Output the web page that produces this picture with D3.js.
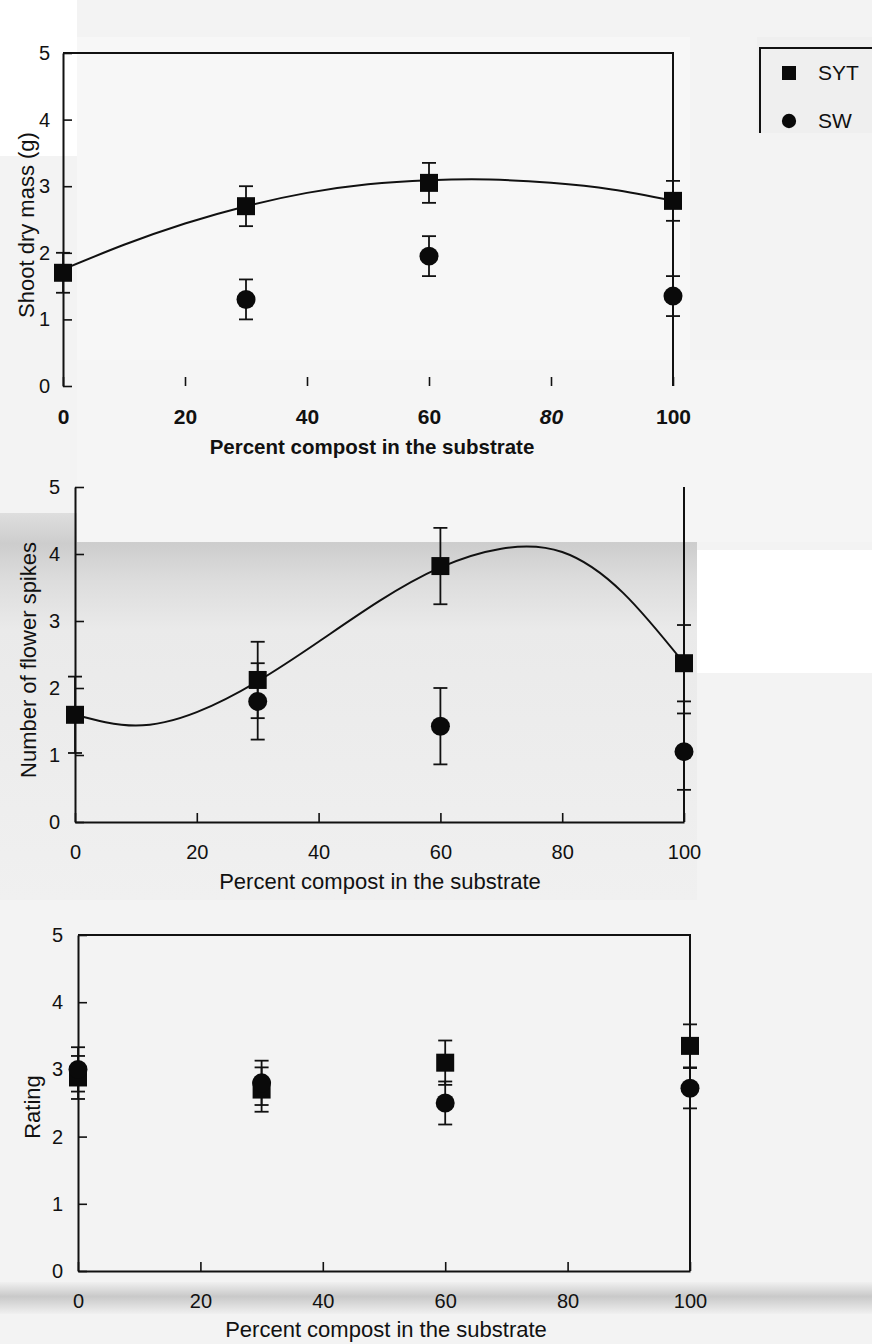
<!DOCTYPE html>
<html>
<head>
<meta charset="utf-8">
<script src="https://cdn.jsdelivr.net/npm/d3@7"></script>
<style>
  html, body { margin: 0; padding: 0; background: #f3f3f3; }
  svg { display: block; }
  text { font-family: 'Liberation Sans', Arial, sans-serif; fill: #111; }
</style>
</head>
<body>
<svg id="fig" width="872" height="1344"></svg>
<script>
// percent compost in the substrate
var compost = [0, 30, 60, 100]
var xTicks = [0, 20, 40, 60, 80, 100]
var yTicks = [0, 1, 2, 3, 4, 5]
var seriesNames = ['SYT', 'SW']

// shoot dry mass (g)
var massSYT = [1.7, 2.7, 3.05, 2.78]
var massSYTErr = [0.3, 0.3, 0.3, 0.3]
var massSW = [null, 1.3, 1.95, 1.35]
var massSWErr = [null, 0.3, 0.3, 0.3]
var massFitX = [0, 10, 20, 30, 40, 50, 60, 70, 80, 90, 100]
var massFitY = [1.75, 2.12, 2.44, 2.7, 2.9, 3.03, 3.09, 3.1, 3.05, 2.95, 2.78]

// number of flower spikes
var spikesSYT = [1.6, 2.12, 3.82, 2.37]
var spikesSYTErr = [0.57, 0.57, 0.57, 0.57]
var spikesSW = [null, 1.8, 1.43, 1.05]
var spikesSWErr = [null, 0.57, 0.57, 0.57]
var spikesFitX = [0, 10, 20, 30, 40, 50, 60, 70, 80, 90, 100]
var spikesFitY = [1.6, 1.44, 1.64, 2.1, 2.69, 3.3, 3.8, 4.08, 4.03, 3.42, 2.37]

// quality rating
var ratingSYT = [2.88, 2.7, 3.1, 3.35]
var ratingSYTErr = [0.32, 0.33, 0.33, 0.32]
var ratingSW = [3.0, 2.8, 2.5, 2.72]
var ratingSWErr = [0.33, 0.33, 0.32, 0.3]

var svg = d3.select('#fig')
var defs = svg.append('defs')

// scanned page background
var bg = svg.append('g')
bg.append('rect').attr('width', 872).attr('height', 1344).attr('fill', '#f3f3f3')

var fold = defs.append('linearGradient').attr('id', 'fold2').attr('x1', 0).attr('y1', 0).attr('x2', 0).attr('y2', 1)
;[[0, '#dedede'], [0.08, '#cdcdcd'], [0.17, '#dcdcdc'], [0.3, '#eaeaea'], [1, '#f0f0f0']].forEach(function (s) {
  fold.append('stop').attr('offset', s[0]).attr('stop-color', s[1])
})
bg.append('rect').attr('x', 0).attr('y', 513).attr('width', 697).attr('height', 387).attr('fill', 'url(#fold2)')
bg.append('rect').attr('x', 77).attr('y', 360).attr('width', 795).attr('height', 182).attr('fill', '#f5f5f5')
bg.append('rect').attr('x', 77).attr('y', 37).attr('width', 613).attr('height', 323).attr('fill', '#f7f7f7')
bg.append('rect').attr('x', 0).attr('y', 0).attr('width', 77).attr('height', 156).attr('fill', '#ffffff')
bg.append('rect').attr('x', 697).attr('y', 550).attr('width', 175).attr('height', 123).attr('fill', '#ffffff')

var fold3 = defs.append('linearGradient').attr('id', 'fold3').attr('x1', 0).attr('y1', 0).attr('x2', 0).attr('y2', 1)
;[[0, '#f0f0f0'], [0.45, '#c9c9c9'], [0.6, '#d3d3d3'], [1, '#f0f0f0']].forEach(function (s) {
  fold3.append('stop').attr('offset', s[0]).attr('stop-color', s[1])
})
bg.append('rect').attr('x', 0).attr('y', 1282).attr('width', 872).attr('height', 32).attr('fill', 'url(#fold3)')

var square = d3.symbol().type(d3.symbolSquare).size(324)
var circle = d3.symbol().type(d3.symbolCircle).size(283)

function drawPanel (p) {
  var x = d3.scaleLinear().domain([0, 100]).range([p.left, p.right])
  var y = d3.scaleLinear().domain([0, 5]).range([p.bottom, p.top])
  var g = svg.append('g')

  // frame: top and right sides
  var frame = 'M' + x(0) + ',' + y(5) + (p.noTop ? 'M' : 'L') + x(100) + ',' + y(5) + 'L' + x(100) + ',' + y(0)
  g.append('path').attr('d', frame).attr('fill', 'none').attr('stroke', '#111').attr('stroke-width', 2)

  var yAxis = g.append('g')
      .attr('transform', 'translate(' + x(0) + ',0)')
      .call(d3.axisLeft(y).tickValues(yTicks).tickFormat(d3.format('d'))
        .tickSize(-9).tickSizeOuter(0).tickPadding(p.yPad))
  var xAxis = g.append('g')
      .attr('transform', 'translate(0,' + y(0) + ')')
      .call(d3.axisBottom(x).tickValues(xTicks).tickSize(-9).tickSizeOuter(0).tickPadding(23))

  ;[yAxis, xAxis].forEach(function (a) {
    a.select('.domain').attr('stroke', '#111').attr('stroke-width', 2)
    a.selectAll('.tick line').attr('stroke', '#111').attr('stroke-width', 1.6)
    a.selectAll('.tick text').attr('fill', '#111').style('font-size', '20px')
      .style('font-family', "'Liberation Sans', Arial, sans-serif")
  })
  if (p.noBottom) xAxis.select('.domain').attr('stroke', 'none')
  if (p.boldX) {
    xAxis.selectAll('.tick text').style('font-weight', 'bold').style('font-size', '21px')
      .style('font-style', function (d) { return d === 80 ? 'italic' : 'normal' })
  }

  g.append('text')
      .attr('x', p.titleX).attr('y', p.titleY)
      .attr('text-anchor', 'middle')
      .style('font-size', p.boldX ? '20.5px' : '22px')
      .style('font-weight', p.boldX ? 'bold' : 'normal')
      .text('Percent compost in the substrate')

  g.append('text')
      .attr('transform', 'translate(' + p.yTitleX + ',' + p.yTitleY + ') rotate(-90)')
      .attr('text-anchor', 'middle')
      .style('font-size', '22px')
      .text(p.yTitle)

  var series = [
    { name: 'SYT', vals: p.syt, errs: p.sytErr, sym: square },
    { name: 'SW', vals: p.sw, errs: p.swErr, sym: circle }
  ]

  series.forEach(function (s) {
    var pts = compost.map(function (c, i) { return { c: c, v: s.vals[i], e: s.errs[i] } })
        .filter(function (d) { return d.v != null })
    var eb = g.append('g').attr('stroke', '#111').attr('stroke-width', 1.8)
    eb.selectAll('line.bar').data(pts).enter().append('line')
        .attr('x1', function (d) { return x(d.c) }).attr('x2', function (d) { return x(d.c) })
        .attr('y1', function (d) { return y(d.v - d.e) }).attr('y2', function (d) { return y(d.v + d.e) })
    eb.selectAll('line.cap').data(pts.concat(pts)).enter().append('line')
        .attr('x1', function (d) { return x(d.c) - 7 }).attr('x2', function (d) { return x(d.c) + 7 })
        .attr('y1', function (d, i) { return y(i < pts.length ? d.v - d.e : d.v + d.e) })
        .attr('y2', function (d, i) { return y(i < pts.length ? d.v - d.e : d.v + d.e) })
  })

  if (p.fitX) {
    var line = d3.line()
        .x(function (d) { return x(d[0]) })
        .y(function (d) { return y(d[1]) })
        .curve(d3.curveNatural)
    g.append('path')
        .datum(d3.zip(p.fitX, p.fitY))
        .attr('d', line)
        .attr('fill', 'none').attr('stroke', '#111').attr('stroke-width', 2)
  }

  series.forEach(function (s) {
    var pts = compost.map(function (c, i) { return { c: c, v: s.vals[i] } })
        .filter(function (d) { return d.v != null })
    g.append('g').selectAll('path').data(pts).enter().append('path')
        .attr('d', s.sym)
        .attr('transform', function (d) { return 'translate(' + x(d.c) + ',' + y(d.v) + ')' })
        .attr('fill', '#0a0a0a')
  })
}

drawPanel({
  left: 63, right: 673, top: 53, bottom: 386, yPad: 13,
  noBottom: true, boldX: true,
  titleX: 372, titleY: 454, yTitleX: 34, yTitleY: 225, yTitle: 'Shoot dry mass (g)',
  syt: massSYT, sytErr: massSYTErr, sw: massSW, swErr: massSWErr,
  fitX: massFitX, fitY: massFitY
})

drawPanel({
  left: 75, right: 684, top: 487, bottom: 822, yPad: 15,
  noTop: true,
  titleX: 380, titleY: 889, yTitleX: 36, yTitleY: 660, yTitle: 'Number of flower spikes',
  syt: spikesSYT, sytErr: spikesSYTErr, sw: spikesSW, swErr: spikesSWErr,
  fitX: spikesFitX, fitY: spikesFitY
})

drawPanel({
  left: 78, right: 690, top: 935, bottom: 1271, yPad: 15,
  titleX: 386, titleY: 1337, yTitleX: 40, yTitleY: 1107, yTitle: 'Rating',
  syt: ratingSYT, sytErr: ratingSYTErr, sw: ratingSW, swErr: ratingSWErr
})

// legend
var legend = svg.append('g')
legend.append('rect').attr('x', 757).attr('y', 37).attr('width', 115).attr('height', 96).attr('fill', '#efefef')
legend.append('path').attr('d', 'M760,133V48H872').attr('fill', 'none').attr('stroke', '#111').attr('stroke-width', 2)
var legendSyms = [d3.symbol().type(d3.symbolSquare).size(196), d3.symbol().type(d3.symbolCircle).size(160)]
var item = legend.selectAll('g.item').data(seriesNames).enter().append('g')
    .attr('transform', function (d, i) { return 'translate(789,' + (73 + i * 48) + ')' })
item.append('path').attr('d', function (d, i) { return legendSyms[i]() }).attr('fill', '#0a0a0a')
item.append('text').attr('x', 29).attr('y', 7).style('font-size', '21px').text(function (d) { return d })
</script>
</body>
</html>
